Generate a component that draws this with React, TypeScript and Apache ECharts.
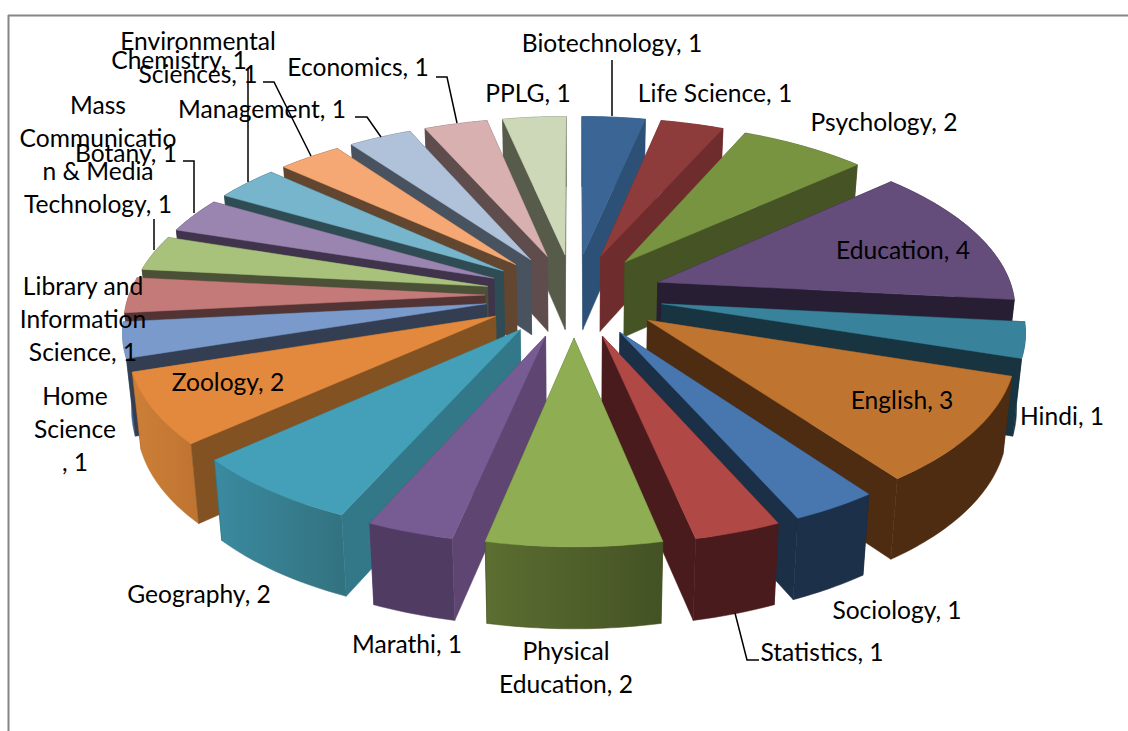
import React, { useEffect, useRef } from "react";
import * as echarts from "echarts";

const categories = ["Biotechnology","Life Science","Psychology","Education","Hindi","English","Sociology","Statistics","Physical Education","Marathi","Geography","Zoology","Home Science","Library and Information Science","Mass Communication & Media Technology","Botany","Chemistry","Environmental Sciences","Management","Economics","PPLG"];
const values = [1,1,2,4,1,3,1,1,2,1,2,2,1,1,1,1,1,1,1,1,1];
const topColors = ["#3a6595","#8e3b3b","#789440","#644c7b","#38829b","#bf7530","#4877b0","#b04846","#8fae54","#775c93","#43a0b8","#e2893e","#7a9acb","#c47a78","#a8c27c","#9a85b0","#76b5cb","#f5a873","#b0c1da","#d9b0b0","#cdd8b8"];
const wallColors = ["#2c5076","#6f2c2c","#465325","#271e34","#173440","#4e2c12","#1b2f47","#491b1c","#465325","#5f4672","#337889","#835223","#333e52","#533435","#4a5136","#3f344b","#2f4c54","#634630","#495360","#5f4c4c","#575b4a"];
const rimStartColors = ["#2c5076","#6f2c2c","#465325","#271e34","#173440","#4e2c12","#1c3049","#4a1b1c","#445224","#503c62","#33727f","#be7431","#4e6a96","#8a5452","#4a5136","#3f344b","#2f4c54","#634630","#495360","#5f4c4c","#575b4a"];
const rimEndColors = ["#2c5076","#6f2c2c","#465325","#271e34","#173440","#4e2c12","#1c3049","#4a1b1c","#5c6e31","#503c62","#3a8aa0","#cd7f37","#4e6a96","#8a5452","#4a5136","#3f344b","#2f4c54","#634630","#495360","#5f4c4c","#575b4a"];

const labelTexts = ["Biotechnology, 1","Life Science, 1","Psychology, 2","Education, 4","Hindi, 1","English, 3","Sociology, 1","Statistics, 1","Physical\nEducation, 2","Marathi, 1","Geography, 2","Zoology, 2","Home\nScience\n, 1","Library and\nInformation\nScience, 1","Mass\nCommunicatio\nn & Media\nTechnology, 1","Botany, 1","Chemistry, 1","Environmental\nSciences, 1","Management, 1","Economics, 1","PPLG, 1"];
const labelX = [612,715,884,903,1062,902,897,822,566,407,199,228,75,83,98,126,179,198,262,358,528];
const labelY = [42,92,121,249,415,399,609,651,667,643,593,381,428,318,154,152,59,57,108,66,92];

const leaders = [
  [[612,60],[612,116]],
  [[436,77],[447,77],[457,123]],
  [[355,117],[367,117],[381,137]],
  [[263,82],[274,82],[311,156]],
  [[248,68],[248,182]],
  [[183,161],[194,161],[194,213]],
  [[154,219],[154,250]],
  [[735,613],[747,660],[759,660]],
];

// projection of the pie plane
const CX = 574, CY = 295, A = 445, B = 209, P = 0.17, EXPLODE = 0.2, RADIUS = 0.8;
const total = values.reduce((a, b) => a + b, 0);
const starts: number[] = [];
values.reduce((acc, v, i) => { starts[i] = acc; return acc + v; }, 0);

function project(x: number, y: number, low: boolean): number[] {
  const d = 1 - P * y;
  const sx = (A * x) / d;
  const sy = CY + (B * y) / d;
  if (!low) return [CX + sx, sy];
  return [CX + sx * 0.98, sy + 76 + 6 * y];
}

function renderItem(params: any, api: any) {
  const i = params.dataIndex;
  const v = api.value(0);
  const a0 = (starts[i] / total) * 360;
  const a1 = ((starts[i] + v) / total) * 360;
  const mid = (a0 + a1) / 2;
  const rad = (d: number) => (d * Math.PI) / 180;
  const ax = EXPLODE * Math.sin(rad(mid));
  const ay = -EXPLODE * Math.cos(rad(mid));
  const rim = (d: number) => [ax + RADIUS * Math.sin(rad(d)), ay - RADIUS * Math.cos(rad(d))];
  const angles: number[] = [];
  for (let d = a0; d < a1; d += 1) angles.push(d);
  angles.push(a1);
  const rimTop = angles.map((d) => { const p = rim(d); return project(p[0], p[1], false); });
  const rimLow = angles.map((d) => { const p = rim(d); return project(p[0], p[1], true); });
  const apexTop = project(ax, ay, false);
  const apexLow = project(ax, ay, true);
  const startWall = [apexTop, rimTop[0], rimLow[0], apexLow];
  const endWall = [apexTop, rimTop[rimTop.length - 1], rimLow[rimLow.length - 1], apexLow];
  const outer = [...rimTop, ...rimLow.slice().reverse()];
  const top = [apexTop, ...rimTop];
  const right = mid < 180;
  const facing = Math.abs(mid - 180) < 1;
  const depth = (180 - Math.abs(mid - 180)) * 10;
  const poly = (points: number[][], color: any, k: number) => ({
    type: "polygon",
    z2: depth + k,
    shape: { points },
    style: { fill: color, stroke: typeof color === "string" ? color : rimStartColors[i], lineWidth: 0.5 },
  });
  const rimFill =
    rimStartColors[i] === rimEndColors[i]
      ? rimStartColors[i]
      : {
          type: "linear", x: 0, y: 0, x2: 1, y2: 0,
          colorStops: [
            { offset: 0, color: rimEndColors[i] },
            { offset: 1, color: rimStartColors[i] },
          ],
        };
  return {
    type: "group",
    children: [
      poly(right ? startWall : endWall, wallColors[i], 0),
      poly(outer, rimFill, facing ? 2 : 1),
      poly(right ? endWall : startWall, wallColors[i], facing ? 1 : 2),
      poly(top, topColors[i], 3),
    ],
  };
}

export default function App() {
  const ref = useRef<HTMLDivElement>(null);
  useEffect(() => {
    const chart = echarts.init(ref.current!, null, { renderer: "svg" });
    const frame = [
      [[8.5, 15], [8.5, 731]],
      [[8, 15.5], [1128, 15.5]],
    ];
    chart.setOption({
      animation: false,
      backgroundColor: "#ffffff",
      series: [
        {
          type: "custom",
          coordinateSystem: "none",
          silent: true,
          renderItem,
          data: values.map((v, i) => ({ name: categories[i], value: [v] })),
        },
      ],
      graphic: [
        ...frame.map((pts) => ({
          type: "polyline", z: 1, silent: true,
          shape: { points: pts },
          style: { stroke: "#868686", lineWidth: 2, fill: "none" },
        })),
        ...leaders.map((pts) => ({
          type: "polyline", z: 50, silent: true,
          shape: { points: pts },
          style: { stroke: "#000000", lineWidth: 1.5, fill: "none" },
        })),
        ...labelTexts.map((t, i) => ({
          type: "text", z: 100, silent: true,
          x: labelX[i], y: labelY[i],
          style: {
            text: t, fill: "#000000", fontSize: 24.6, fontFamily: "Lato, 'Open Sans', sans-serif",
            lineHeight: 33, align: "center", verticalAlign: "middle",
          },
        })),
      ],
    });
    return () => chart.dispose();
  }, []);
  return <div ref={ref} style={{ position: "absolute", left: 0, top: 0, width: 1128, height: 731 }} />;
}
